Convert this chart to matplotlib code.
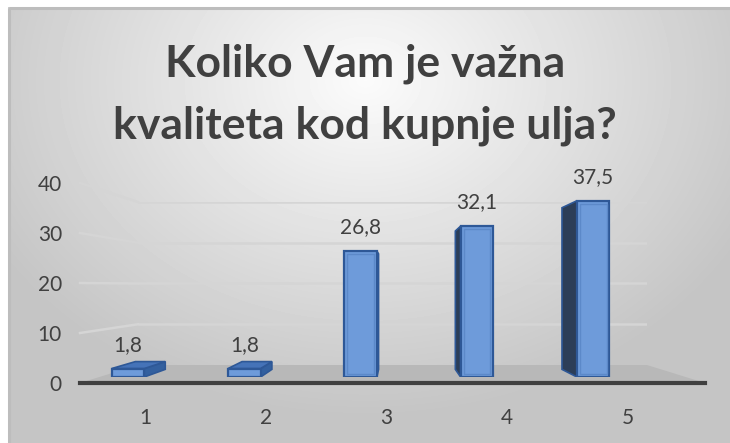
import numpy as np
import matplotlib
matplotlib.use("Agg")
import matplotlib.pyplot as plt
from matplotlib.patches import Polygon, Rectangle

categories = ["1", "2", "3", "4", "5"]
values = [1.8, 1.8, 26.8, 32.1, 37.5]
value_labels = ["1,8", "1,8", "26,8", "32,1", "37,5"]
y_ticks = [0, 10, 20, 30, 40]
title_lines = ["Koliko Vam je važna", "kvaliteta kod kupnje ulja?"]

W, H = 730, 443
TXT = "#404040"


def box(x0, y0, x1, y1):
    # pixel box (origin top-left) -> figure rect
    return [x0 / W, 1 - y1 / H, (x1 - x0) / W, (y1 - y0) / H]


fig = plt.figure(figsize=(W / 100, H / 100), dpi=100)

# background with radial gradient and border
bg = fig.add_axes([0, 0, 1, 1], zorder=0)
yy, xx = np.mgrid[0:H, 0:W]
r = np.hypot((xx - 365) / 420, (yy - 80) / 330)
shade = np.clip(0.985 - 0.21 * r, 0.77, 1.0)
shade[(xx < 8) | (yy < 7)] = 1.0
bg.imshow(shade, cmap="gray", vmin=0, vmax=1, extent=(0, W, H, 0), aspect="auto")
bg.add_patch(Rectangle((9, 8), W, H, fill=False, edgecolor="#BDBDBD", lw=2.2))
bg.set_xlim(0, W)
bg.set_ylim(H, 0)
bg.axis("off")

# back wall (perspective depth)
ax_back = fig.add_axes(box(138, 202, 647, 365), zorder=1)
ax_back.set_xlim(0, 1)
ax_back.set_ylim(0, 40)
ax_back.axis("off")
ax_back.hlines(y_ticks[1:], 0, 1, color="#D5D5D5", lw=1.8)

# front plane (axis labels)
step_f = 120.75
ax_front = fig.add_axes(box(80, 183, 705, 383), zorder=3)
ax_front.set_xlim(1 - (145 - 80) / step_f, 1 + (705 - 145) / step_f)
ax_front.set_ylim(0, 40)

# bars plane
step_m = 116.3
ax_bar = fig.add_axes(box(80, 183, 705, 377), zorder=2)
ax_bar.set_xlim(1 - (128 - 80) / step_m, 1 + (705 - 128) / step_m)
ax_bar.set_ylim(0, (377 - 183) / 4.7)
ax_bar.axis("off")


def to_fig(ax, x, y):
    return fig.transFigure.inverted().transform(ax.transData.transform((x, y)))


# floor and side wall lines
xl, xr = ax_front.get_xlim()
floor = [to_fig(ax_front, xl, 0), to_fig(ax_front, xr, 0),
         to_fig(ax_back, 1, 0), to_fig(ax_back, 0, 0)]
ax_back.add_patch(Polygon(floor, closed=True, transform=fig.transFigure,
                          facecolor="#B8B8B8", edgecolor="none", clip_on=False))
for t in y_ticks[1:]:
    a = to_fig(ax_front, xl, t)
    b = to_fig(ax_back, 0, t)
    ax_back.plot([a[0], b[0]], [a[1], b[1]], transform=fig.transFigure,
                 color="#D5D5D5", lw=1.8, clip_on=False)

# 3d-ish columns
xs = np.arange(1, len(values) + 1)
vp = np.array([1 + (397 - 128) / step_m, (377 - 285) / 4.7])
s = 0.917
w = 0.28
edge = "#2E5897"


def back(px, py):
    return vp + s * (np.array([px, py]) - vp)


for x, v, lbl in zip(xs, values, value_labels):
    x0, x1 = x - w / 2, x + w / 2
    if x0 > vp[0]:
        side = [(x0, 0), (x0, v), back(x0, v), back(x0, 0)]
        ax_bar.add_patch(Polygon(side, facecolor="#2C3E58", edgecolor=edge, lw=1.2))
    if x1 < vp[0]:
        side = [(x1, 0), (x1, v), back(x1, v), back(x1, 0)]
        ax_bar.add_patch(Polygon(side, facecolor="#33609F", edgecolor=edge, lw=1.2))
    if v < vp[1]:
        top = [(x0, v), (x1, v), back(x1, v), back(x0, v)]
        ax_bar.add_patch(Polygon(top, facecolor="#4573B8", edgecolor=edge, lw=1.2))
    ax_bar.add_patch(Rectangle((x0, 0), w, v, facecolor="#6E9BDA", edgecolor=edge, lw=1.6))
    if v > 3:
        ax_bar.add_patch(Rectangle((x0 + 0.025, 0.6), w - 0.05, v - 1.2,
                                   fill=False, edgecolor="#5C89C9", lw=1.0))
    ax_bar.annotate(lbl, (x, v), xytext=(0, 17), textcoords="offset points",
                    ha="center", va="center", fontsize=15, color=TXT, family="Lato")

# axis styling
ax_front.patch.set_visible(False)
for sp in ["top", "right", "left"]:
    ax_front.spines[sp].set_visible(False)
ax_front.spines["bottom"].set_linewidth(3)
ax_front.spines["bottom"].set_color(TXT)
ax_front.set_yticks(y_ticks)
ax_front.set_yticklabels([str(t) for t in y_ticks], family="Lato", fontsize=15, color=TXT)
ax_front.set_xticks(xs)
ax_front.set_xticklabels(categories, family="Lato", fontsize=15, color=TXT)
ax_front.tick_params(axis="y", length=0, pad=13)
ax_front.tick_params(axis="x", length=0, pad=18)

# title
fig.text(0.5, 1 - 77 / H, title_lines[0], ha="center", va="baseline", fontsize=32,
         family="Lato", weight="bold", color=TXT)
fig.text(0.5, 1 - 139 / H, title_lines[1], ha="center", va="baseline", fontsize=32,
         family="Lato", weight="bold", color=TXT)

fig.savefig("out.png", dpi=100)
